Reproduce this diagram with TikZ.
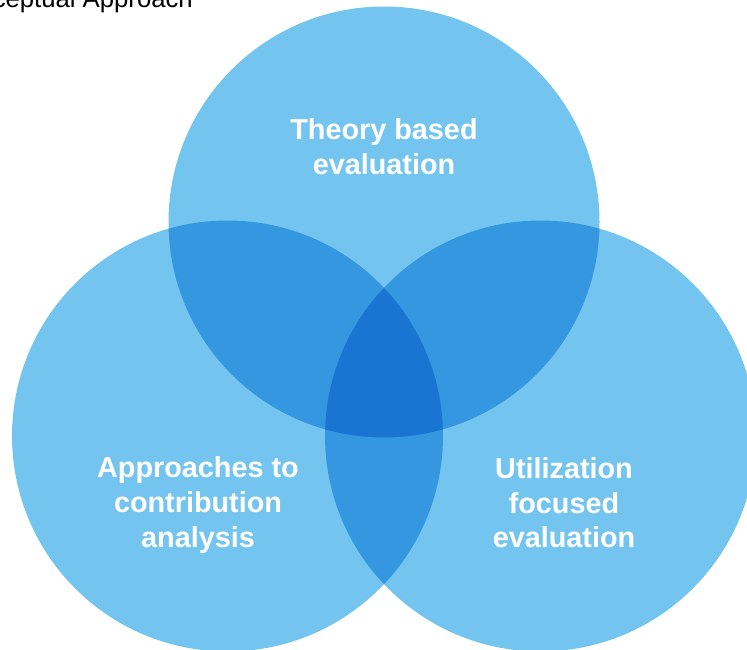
\documentclass[tikz,border=0pt]{standalone}
\usepackage{fontspec}
\setmainfont{Liberation Sans}
\definecolor{lightc}{RGB}{115,197,239}
\definecolor{midc}{RGB}{52,151,223}
\definecolor{darkc}{RGB}{26,117,210}
\begin{document}
\begin{tikzpicture}[x=1pt,y=-1pt,
  lbl/.style={text=white,font=\fontsize{28.8}{34.6}\selectfont\bfseries,align=center},
  ttl/.style={text=black,font=\fontsize{25.7}{30}\selectfont,anchor=base east,inner sep=0pt}]
\useasboundingbox (0,0) rectangle (747,650);
\coordinate (T) at (384,222);
\coordinate (L) at (227.5,436);
\coordinate (R) at (540.5,436);
\def\rr{215.5}
% base circles
\fill[lightc] (T) circle (\rr);
\fill[lightc] (L) circle (\rr);
\fill[lightc] (R) circle (\rr);
% pairwise overlaps
\begin{scope}
  \clip (T) circle (\rr);
  \fill[midc] (L) circle (\rr);
  \fill[midc] (R) circle (\rr);
\end{scope}
\begin{scope}
  \clip (L) circle (\rr);
  \fill[midc] (R) circle (\rr);
\end{scope}
% triple overlap
\begin{scope}
  \clip (T) circle (\rr);
  \clip (L) circle (\rr);
  \fill[darkc] (R) circle (\rr);
\end{scope}
\node[ttl] (title) at (193,7.5) {Conceptual Approach};
\node[lbl] (top) at (384,147) {Theory based\\evaluation};
\node[lbl] (left) at (198,505) {Approaches to\\contribution\\analysis};
\node[lbl] (right) at (564,503) {Utilization\\focused\\evaluation};
\end{tikzpicture}
\end{document}
